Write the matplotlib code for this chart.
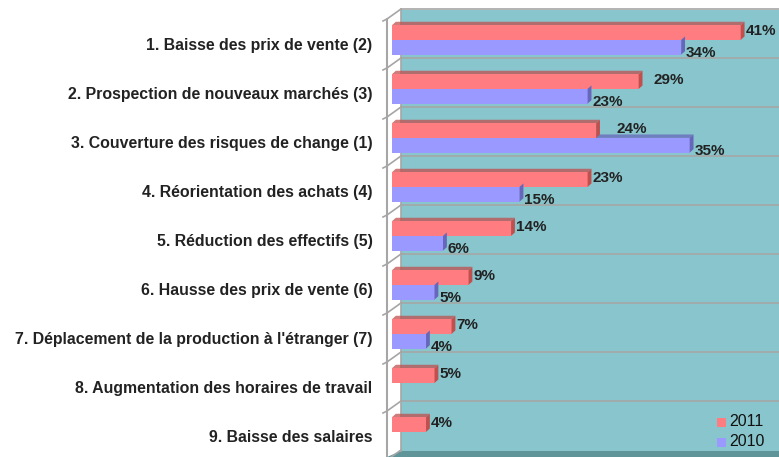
import matplotlib
matplotlib.use("Agg")
import matplotlib.pyplot as plt
from matplotlib.patches import Rectangle, Polygon
from matplotlib.lines import Line2D

categories = [
    "1. Baisse des prix de vente (2)",
    "2. Prospection de nouveaux marchés (3)",
    "3. Couverture des risques de change (1)",
    "4. Réorientation des achats (4)",
    "5. Réduction des effectifs (5)",
    "6. Hausse des prix de vente (6)",
    "7. Déplacement de la production à l'étranger (7)",
    "8. Augmentation des horaires de travail",
    "9. Baisse des salaires",
]
values_2011 = [41, 29, 24, 23, 14, 9, 7, 5, 4]
values_2010 = [34, 23, 35, 15, 6, 5, 4, None, None]
series_names = ["2011", "2010"]

W, H = 779, 457
fig = plt.figure(figsize=(W / 100, H / 100), dpi=100)
plt.rcParams['font.family'] = ['Liberation Sans', 'DejaVu Sans']

def fx(px):
    return px / W

def fy(py):
    return 1 - py / H

teal = "#88c5cc"
red = "#ff7c80"
red_dark = "#c0504d"
blue = "#9999ff"
blue_dark = "#6666bb"
grid_c = "#a6a6a6"

top_px, row_px, n = 10, 49, len(categories)
bottom_px = top_px + row_px * n

# back wall
fig.patches.append(Rectangle((fx(401), fy(bottom_px)), fx(W - 401), fy(top_px) - fy(bottom_px),
                             transform=fig.transFigure, facecolor=teal, edgecolor="none", zorder=0))
# floor
fig.patches.append(Polygon([(fx(387), fy(H)), (fx(401), fy(bottom_px)), (fx(W), fy(bottom_px)), (fx(W), fy(H))],
                           closed=True, transform=fig.transFigure, facecolor="#5f9499", edgecolor="none", zorder=0))
# gridlines + side wall
for k in range(n + 1):
    yb = top_px + row_px * k - 1
    if k < n:
        fig.lines.append(Line2D([fx(401), fx(W)], [fy(yb), fy(yb)], transform=fig.transFigure,
                                color=grid_c, lw=1.2, zorder=1))
    fig.lines.append(Line2D([fx(387), fx(401)], [fy(yb + 10), fy(yb)], transform=fig.transFigure,
                            color=grid_c, lw=1.2, zorder=1))
    fig.lines.append(Line2D([fx(383), fx(387)], [fy(yb + 12), fy(yb + 10)], transform=fig.transFigure,
                            color=grid_c, lw=1.2, zorder=1))
fig.lines.append(Line2D([fx(401), fx(401)], [fy(top_px), fy(bottom_px)], transform=fig.transFigure,
                        color=grid_c, lw=1.2, zorder=1))
fig.lines.append(Line2D([fx(387), fx(387)], [fy(top_px + 10), fy(H)], transform=fig.transFigure,
                        color=grid_c, lw=1.5, zorder=1))

ax = fig.add_axes([fx(392), fy(bottom_px), fx(W - 392), fy(top_px) - fy(bottom_px)])
ax.set_zorder(3)
ax.set_facecolor("none")
ax.set_xlim(0, 45.5)
ax.set_ylim(n - 0.5, -0.5)
for s in ax.spines.values():
    s.set_visible(False)
ax.set_xticks([])

h = 0.3
off_r = -0.04
off_b = 0.26
dx, dy = 0.45, 0.07

def bar3d(y, v, color, dark):
    ax.barh(y, v, height=h, color=color, edgecolor="none", zorder=3)
    yt = y - h / 2
    ax.add_patch(Polygon([(0, yt), (v, yt), (v + dx, yt - dy), (dx, yt - dy)], closed=True,
                         facecolor=dark, edgecolor="none", alpha=0.75, zorder=2))
    ax.add_patch(Polygon([(v, yt), (v + dx, yt - dy), (v + dx, yt + h - dy), (v, yt + h)], closed=True,
                         facecolor=dark, edgecolor="none", zorder=4))

extra_gap = {1: 1.2, 2: 1.9}
for i, (a, b) in enumerate(zip(values_2011, values_2010)):
    bar3d(i + off_r, a, red, red_dark)
    ax.text(a + 0.55 + extra_gap.get(i, 0), i + off_r - 0.04, f"{a}%", va="center", ha="left",
            fontsize=11, fontweight="bold", color="#222222", zorder=5)
    if b is not None:
        bar3d(i + off_b, b, blue, blue_dark)
        ax.text(b + 0.55, i + off_b + 0.12, f"{b}%", va="center", ha="left",
                fontsize=11, fontweight="bold", color="#222222", zorder=5)

ax.set_yticks([i + 0.2 for i in range(n)])
ax.set_yticklabels(categories, fontsize=11.4, fontweight="bold", color="#222222")
ax.tick_params(axis="y", length=0, pad=14)

# legend
for j, (name, col) in enumerate(zip(series_names, [red, blue])):
    yy = 422 + j * 20
    fig.patches.append(Rectangle((fx(717), fy(yy + 5)), fx(9), fy(yy - 4) - fy(yy + 5),
                                 transform=fig.transFigure, facecolor=col, edgecolor="none", zorder=6))
    fig.text(fx(729), fy(yy), name, ha="left", va="center", fontsize=11.5, color="#111111", zorder=6)

fig.savefig("out.png", dpi=100)
